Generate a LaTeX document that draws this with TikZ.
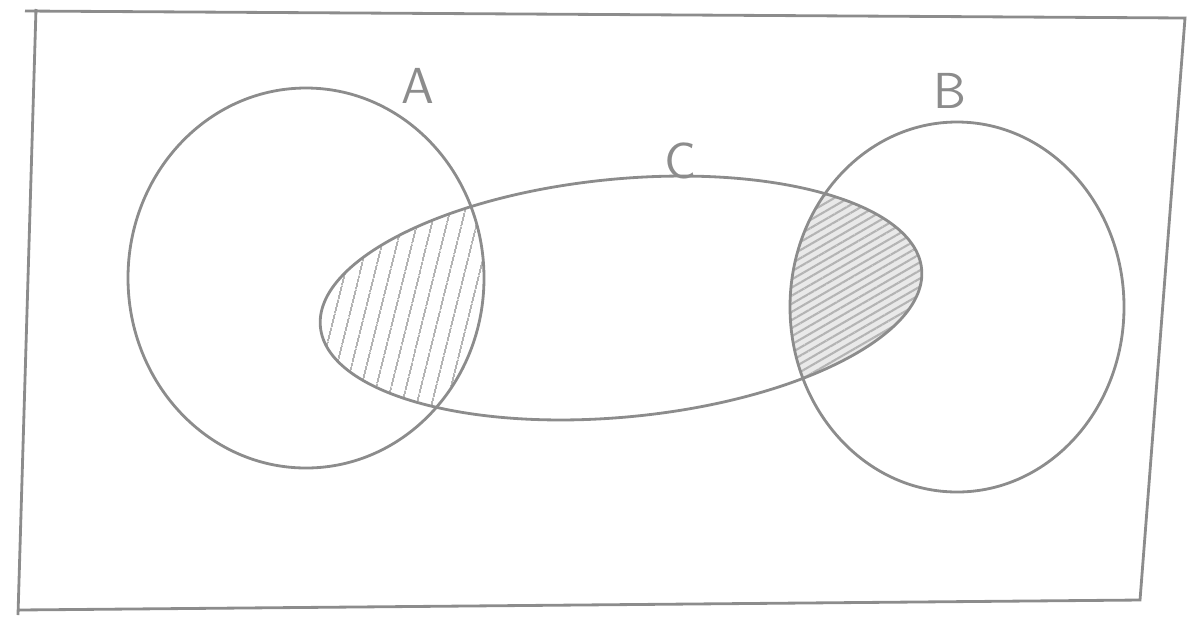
\documentclass[tikz,border=0pt]{standalone}
\usepackage{tikz}
\definecolor{pencil}{HTML}{8C8C8C}
\definecolor{shade}{HTML}{B4B4B4}
\usetikzlibrary{
  patterns.meta,
  calc
}

\begin{document}
\begin{tikzpicture}[
  sketch/.style={draw=pencil, line width=0.8pt},
  hatch/.style={pattern={Lines[angle=76, distance=4pt, line width=0.5pt]},
    pattern color=shade},
  scribble/.style={
    pattern={Lines[angle=30, distance=2pt, line width=0.6pt]},
    pattern color=shade},
  setlabel/.style={font=\sffamily\Large, text=pencil, inner sep=0pt}
]
\useasboundingbox (0,0) rectangle (11.96,6.31);

% frame
\draw[sketch] (0.25,6.20) -- (11.85,6.13) -- (11.40,0.31) -- (0.18,0.21)
  (0.36,6.22) -- (0.18,0.16);

% shaded overlaps
\begin{scope}
  \clip[rotate around={5.5:(6.21,3.33)}] (6.21,3.33) ellipse [x radius=3.02, y radius=1.19];
  \fill[hatch] (3.06,3.53) ellipse [x radius=1.78, y radius=1.90];
  \fill[shade!30] (9.57,3.24) ellipse [x radius=1.67, y radius=1.85];
  \fill[scribble] (9.57,3.24) ellipse [x radius=1.67, y radius=1.85];
\end{scope}

% sets
\draw[sketch] (3.06,3.53) ellipse [x radius=1.78, y radius=1.90];
\draw[sketch] (9.57,3.24) ellipse [x radius=1.67, y radius=1.85];
\draw[sketch, rotate around={5.5:(6.21,3.33)}] (6.21,3.33) ellipse [x radius=3.02, y radius=1.19];

\node[setlabel] (labA) at (4.18,5.45) {A};
\node[setlabel] (labB) at (9.50,5.40) {B};
\node[setlabel] (labC) at (6.80,4.70) {C};

\end{tikzpicture}
\end{document}
